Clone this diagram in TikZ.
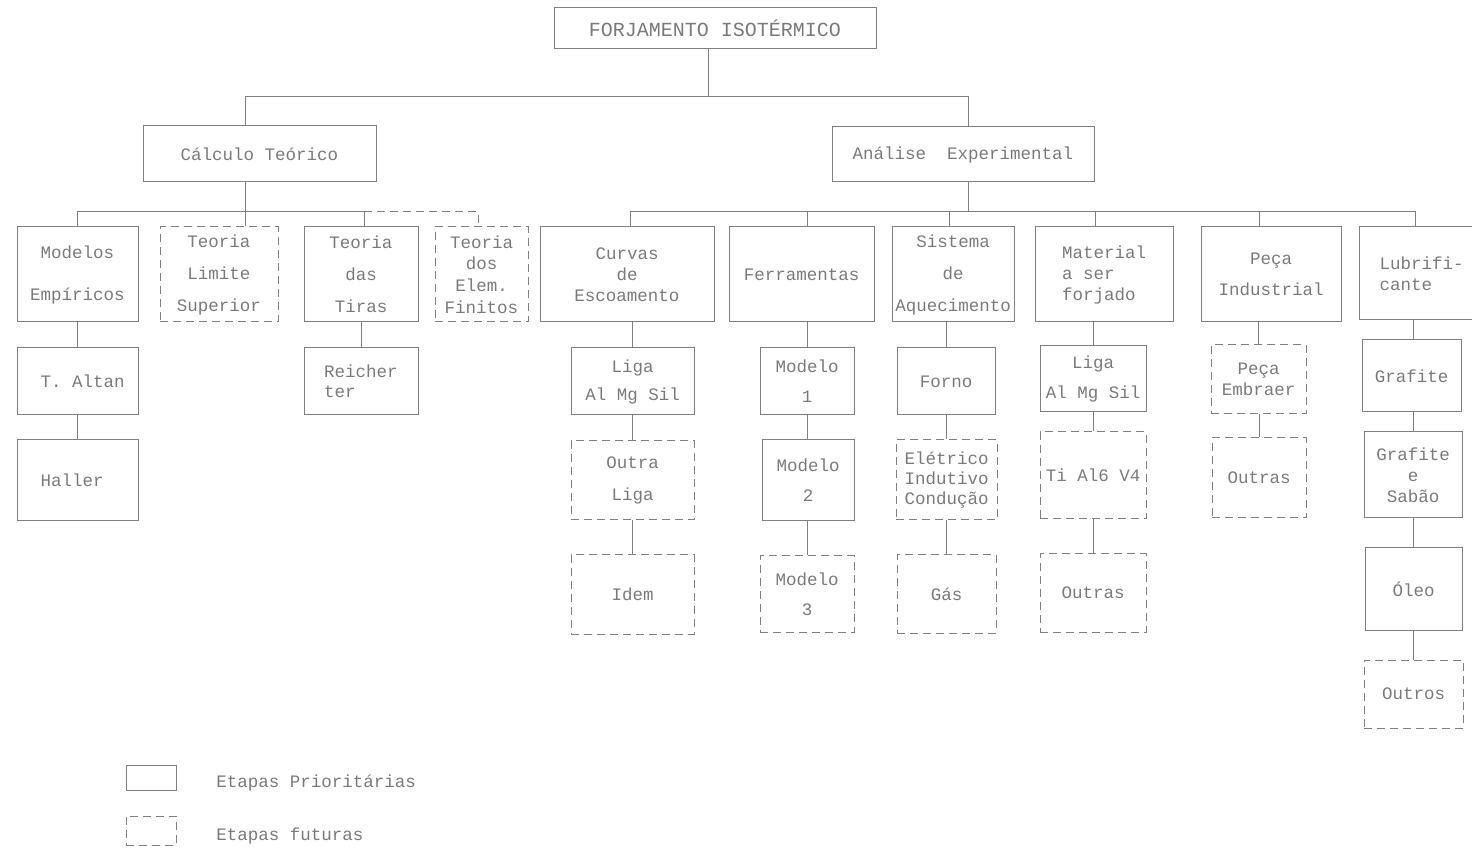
\documentclass[tikz,border=0pt]{standalone}
\usepackage{fontspec}
\setmainfont{Liberation Mono}
\usetikzlibrary{calc}
\definecolor{lc}{gray}{0.5}
\definecolor{tc}{gray}{0.48}
\tikzset{
  ls/.style={font=\fontsize{8.75}{#1}\selectfont},
  ls/.default=10.5pt,
  sb/.style={draw=lc, line width=0.5pt, inner sep=0pt, align=center, text=tc, ls},
  db/.style={sb, dash pattern=on 4pt off 2.5pt},
  dim/.style 2 args={minimum width=#1*0.5pt, minimum height=#2*0.5pt},
  conn/.style={draw=lc, line width=0.5pt},
  dconn/.style={conn, dash pattern=on 4pt off 2.5pt}
}
\begin{document}
\begin{tikzpicture}[x=0.5pt, y=-0.5pt]
\useasboundingbox (0,0) rectangle (1472,849);
\clip (0,0) rectangle (1472,849);
% level 0 and 1
\node[sb, dim={322}{41}, font=\fontsize{10}{12}\selectfont] (root) at (715,28.5) {FORJAMENTO ISOTÉRMICO};
\node[sb, dim={233}{56}] (calc) at (259.5,154) {Cálculo Teórico};
\node[sb, dim={262}{55}] (anal) at (963,154.5) {Análise\ \ Experimental};
% left branch
\node[sb, dim={121}{95}, ls=21pt] (mod) at (77.5,274.5) {Modelos\\Empíricos};
\node[db, dim={118}{95}, ls=16pt] (tls) at (219,274.5) {Teoria\\Limite\\Superior};
\node[sb, dim={114}{95}, ls=16pt] (tir) at (361,274.5) {Teoria\\das\\Tiras};
\node[db, dim={93}{95}, ls=10.8pt] (tef) at (481.5,274.5) {Teoria\\dos\\Elem.\\Finitos};
\node[sb, dim={121}{67}] (alt) at (77.5,381.5) {\ T. Altan};
\node[sb, dim={121}{81}] (hal) at (77.5,480.5) {Haller\ };
\node[sb, dim={114}{67}, ls=10pt, align=left] (rei) at (361,381.5) {Reicher\\ter};
% right branch level 2
\node[sb, dim={174}{95}, ls=10.5pt] (cur) at (627,274.5) {Curvas\\de\\Escoamento};
\node[sb, dim={145}{95}] (fer) at (801.5,274.5) {Ferramentas};
\node[sb, dim={122}{95}, ls=16pt] (sis) at (953,274.5) {Sistema\\de\\Aquecimento};
\node[sb, dim={138}{95}, ls=10.5pt, align=left] (mat) at (1104,274.5) {Material\\a ser\\forjado};
\node[sb, dim={140}{95}, ls=15.5pt] (pec) at (1271,274.5) {Peça\\Industrial};
\node[sb, dim={125}{93}, ls=10.5pt, align=left] (lub) at (1421.5,273.5) {Lubrifi-\\cante};
% row 2
\node[sb, dim={123}{67}, ls=14pt] (lig1) at (632.5,381.5) {Liga\\Al Mg Sil};
\node[sb, dim={94}{67}, ls=15pt] (m1) at (807,381.5) {Modelo\\1};
\node[sb, dim={98}{67}] (for) at (946,381.5) {Forno};
\node[sb, dim={106}{66}, ls=15pt] (lig2) at (1093,379) {Liga\\Al Mg Sil};
\node[db, dim={95}{69}, ls=10.5pt] (emb) at (1258.5,379.5) {Peça\\Embraer};
\node[sb, dim={99}{72}] (gra) at (1411.5,376) {Grafite};
% row 3
\node[db, dim={123}{79}, ls=16pt] (out1) at (632.5,480.5) {Outra\\Liga};
\node[sb, dim={92}{81}, ls=15pt] (m2) at (808,480.5) {Modelo\\2};
\node[db, dim={101}{80}, ls=10pt] (ele) at (946.5,480) {Elétrico\\Indutivo\\Condução};
\node[db, dim={106}{87}] (ti) at (1093,475.5) {Ti Al6 V4};
\node[db, dim={94}{80}] (out2) at (1259,478) {Outras};
\node[sb, dim={98}{86}, ls=10.5pt] (gs) at (1413,475) {Grafite\\e\\Sabão};
% row 4
\node[db, dim={123}{79}] (idem) at (632.5,594.5) {Idem};
\node[db, dim={94}{76}, ls=15pt] (m3) at (807,594) {Modelo\\3};
\node[db, dim={99}{78}] (gas) at (946.5,594) {Gás};
\node[db, dim={106}{78}] (out3) at (1093,593) {Outras};
\node[sb, dim={97}{82}] (oleo) at (1413.5,589) {Óleo};
% row 5
\node[db, dim={99}{68}] (outros) at (1413.5,694) {Outros};
% legend
\node[sb, dim={50}{25}] (lgs) at (151,777.5) {};
\node[db, dim={50}{29}] (lgd) at (151,830.5) {};
\node[anchor=west, text=tc, ls, inner sep=0pt] (lgst) at (216,783) {Etapas Prioritárias};
\node[anchor=west, text=tc, ls, inner sep=0pt] (lgdt) at (216,836) {Etapas futuras};
% bus coordinates
\coordinate (j0) at (708,97);
\coordinate (tl) at (245,97);
\coordinate (tr) at (968,97);
\coordinate (lb1) at (77.5,212);
\coordinate (lb2) at (245,212);
\coordinate (lb3) at (364,212);
\coordinate (lb4) at (478,212);
\coordinate (rb0) at (968,212);
\coordinate (rb1) at (630,212);
\coordinate (rb2) at (807,212);
\coordinate (rb3) at (949,212);
\coordinate (rb4) at (1095,212);
\coordinate (rb5) at (1259,212);
\coordinate (rb6) at (1415,212);
% top connectors
\draw[conn] (root.south -| j0) -- (j0);
\draw[conn] (calc.north -| tl) -- (tl) -- (tr) -- (anal.north -| tr);
% left bus
\draw[conn] (calc.south -| lb2) -- (tls.north -| lb2);
\draw[conn] (mod.north -| lb1) -- (lb1) -- (lb3) -- (tir.north -| lb3);
\draw[dconn] (lb3) -- (lb4) -- (tef.north -| lb4);
\draw[conn] (mod.south) -- (alt.north);
\draw[conn] (alt.south) -- (hal.north);
\draw[conn] (tir.south) -- (rei.north);
% right bus
\draw[conn] (anal.south -| rb0) -- (rb0);
\draw[conn] (cur.north -| rb1) -- (rb1) -- (rb6) -- (lub.north -| rb6);
\draw[conn] (rb2) -- (fer.north -| rb2);
\draw[conn] (rb3) -- (sis.north -| rb3);
\draw[conn] (rb4) -- (mat.north -| rb4);
\draw[conn] (rb5) -- (pec.north -| rb5);
% columns
\draw[conn] (cur.south -| lig1) -- (lig1.north);
\draw[conn] (lig1.south) -- (out1.north);
\draw[conn] (out1.south) -- (idem.north);
\draw[conn] (fer.south -| m1) -- (m1.north);
\draw[conn] (m1.south) -- (m1.south |- m2.north);
\draw[conn] (m2.south -| m3) -- (m3.north);
\draw[conn] (sis.south -| for) -- (for.north);
\draw[conn] (for.south -| ele) -- (ele.north);
\draw[conn] (ele.south) -- (gas.north);
\draw[conn] (mat.south -| lig2) -- (lig2.north);
\draw[conn] (lig2.south) -- (ti.north);
\draw[conn] (ti.south) -- (out3.north);
\draw[conn] (pec.south -| emb) -- (emb.north);
\draw[conn] (emb.south -| out2) -- (out2.north);
\draw[conn] (lub.south -| gs) -- (gra.north -| gs);
\draw[conn] (gra.south -| gs) -- (gs.north);
\draw[conn] (gs.south) -- (gs.south |- oleo.north);
\draw[conn] (oleo.south) -- (oleo.south |- outros.north);
\end{tikzpicture}
\end{document}
